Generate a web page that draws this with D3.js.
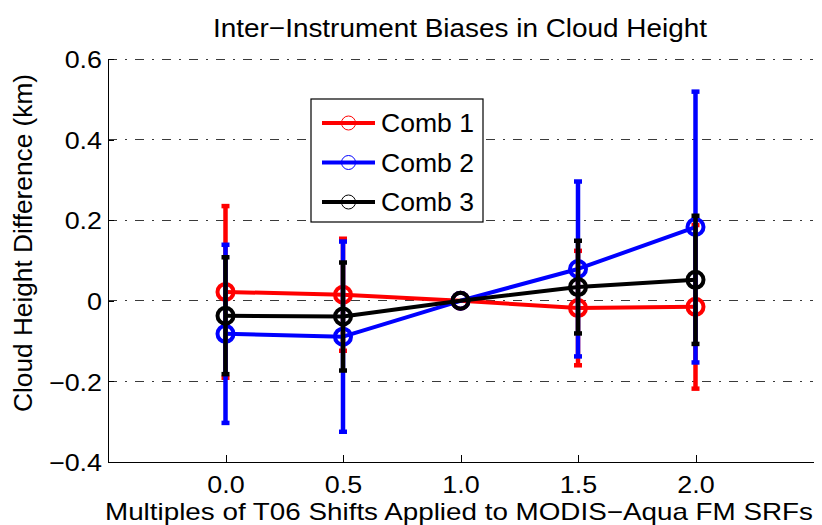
<!DOCTYPE html>
<html>
<head>
<meta charset="utf-8">
<script src="https://cdn.jsdelivr.net/npm/d3@7"></script>
<style>
  html, body { margin: 0; padding: 0; background: #fff; }
  svg { display: block; font-family: "Liberation Sans", Arial, Helvetica, sans-serif; }
</style>
</head>
<body>
<svg id="chart" width="822" height="525"></svg>
<script>
// Shift multiples (x positions)
const shifts = [0.0, 0.5, 1.0, 1.5, 2.0];

// Mean cloud height differences (km) for each combination
const comb1Mean = [0.022, 0.015, 0.0, -0.018, -0.015];
const comb2Mean = [-0.082, -0.089, 0.0, 0.079, 0.183];
const comb3Mean = [-0.037, -0.039, 0.0, 0.034, 0.052];

// Error bar half-widths (km)
const comb1Err = [0.213, 0.139, 0.0, 0.142, 0.203];
const comb2Err = [0.221, 0.236, 0.0, 0.217, 0.336];
const comb3Err = [0.145, 0.134, 0.0, 0.115, 0.159];

const seriesNames = ["Comb 1", "Comb 2", "Comb 3"];
const seriesColors = ["#ff0000", "#0000ff", "#000000"];

const yTicks = [-0.4, -0.2, 0, 0.2, 0.4, 0.6];
const xTicks = [0.0, 0.5, 1.0, 1.5, 2.0];

const titleText = "Inter\u2212Instrument Biases in Cloud Height";
const xLabel = "Multiples of T06 Shifts Applied to MODIS\u2212Aqua FM SRFs";
const yLabel = "Cloud Height Difference (km)";

const series = [
  { name: seriesNames[0], color: seriesColors[0], mean: comb1Mean, err: comb1Err },
  { name: seriesNames[1], color: seriesColors[1], mean: comb2Mean, err: comb2Err },
  { name: seriesNames[2], color: seriesColors[2], mean: comb3Mean, err: comb3Err }
];

const svg = d3.select("#chart");
const plot = { left: 108, right: 813, top: 59, bottom: 462 };

const x = d3.scaleLinear().domain([-0.5, 2.5]).range([plot.left, plot.right]);
const y = d3.scaleLinear().domain([-0.4, 0.6]).range([plot.bottom, plot.top]);

const fmtY = d => d === 0 ? "0" : d3.format(".1f")(d);
const fmtX = d3.format(".1f");

// Slightly wide lettering
const wide = 1.12;

// Dash-dot horizontal grid lines
svg.append("g")
  .selectAll("line")
  .data(yTicks.filter(t => t > -0.4))
  .join("line")
  .attr("x1", plot.left).attr("x2", plot.right)
  .attr("y1", d => y(d)).attr("y2", d => y(d))
  .attr("stroke", "#3a3a3a")
  .attr("stroke-width", 1)
  .attr("stroke-dasharray", "9,8,2,8")
  .attr("shape-rendering", "crispEdges");

// Left axis
const yAxis = d3.axisLeft(y).tickValues(yTicks).tickFormat(fmtY).tickSizeInner(-6).tickSizeOuter(0).tickPadding(6);
const gy = svg.append("g").attr("transform", `translate(${plot.left},0)`).call(yAxis);
gy.select(".domain").attr("stroke", "#000").attr("shape-rendering", "crispEdges");
gy.selectAll(".tick line").attr("stroke", "#000").attr("shape-rendering", "crispEdges");
gy.selectAll(".tick text").attr("font-size", 24).attr("fill", "#000")
  .attr("font-family", "Liberation Sans, Arial, sans-serif").attr("dy", "0.36em")
  .attr("x", -6 / wide)
  .attr("transform", `scale(${wide},1)`);

// Bottom axis
const xAxis = d3.axisBottom(x).tickValues(xTicks).tickFormat(fmtX).tickSizeInner(-7).tickSizeOuter(0).tickPadding(14);
const gx = svg.append("g").attr("transform", `translate(0,${plot.bottom})`).call(xAxis);
gx.select(".domain").attr("stroke", "#000").attr("shape-rendering", "crispEdges");
gx.selectAll(".tick line").attr("stroke", "#000").attr("shape-rendering", "crispEdges");
gx.selectAll(".tick text").attr("font-size", 24).attr("fill", "#000")
  .attr("font-family", "Liberation Sans, Arial, sans-serif")
  .attr("transform", `scale(${wide},1)`);

// Series: error bars, connecting line, circle markers
const capHalf = 4;
series.forEach(s => {
  const g = svg.append("g");
  const pts = shifts.map((xv, i) => ({ x: xv, m: s.mean[i], e: s.err[i] }));

  const bars = g.append("g").selectAll("g").data(pts.filter(p => p.e > 0)).join("g");
  bars.append("line")
    .attr("x1", p => x(p.x)).attr("x2", p => x(p.x))
    .attr("y1", p => y(p.m + p.e)).attr("y2", p => y(p.m - p.e))
    .attr("stroke", s.color).attr("stroke-width", 4.5);
  [1, -1].forEach(sign => {
    bars.append("line")
      .attr("x1", p => x(p.x) - capHalf).attr("x2", p => x(p.x) + capHalf)
      .attr("y1", p => y(p.m + sign * p.e)).attr("y2", p => y(p.m + sign * p.e))
      .attr("stroke", s.color).attr("stroke-width", 4.5);
  });

  const line = d3.line().x(p => x(p.x)).y(p => y(p.m));
  g.append("path").datum(pts).attr("d", line)
    .attr("fill", "none").attr("stroke", s.color).attr("stroke-width", 4)
    .attr("stroke-linejoin", "round");

  g.append("g").selectAll("circle").data(pts).join("circle")
    .attr("cx", p => x(p.x)).attr("cy", p => y(p.m)).attr("r", 8)
    .attr("fill", "none").attr("stroke", s.color).attr("stroke-width", 4);
});

// Legend
const legend = svg.append("g");
legend.append("rect")
  .attr("x", 311).attr("y", 99).attr("width", 172).attr("height", 123)
  .attr("fill", "#fff").attr("stroke", "#000").attr("stroke-width", 1.2);
series.forEach((s, i) => {
  const ly = 123 + i * 39.5;
  legend.append("line").attr("x1", 322).attr("x2", 375).attr("y1", ly).attr("y2", ly)
    .attr("stroke", s.color).attr("stroke-width", 4);
  legend.append("circle").attr("cx", 348.5).attr("cy", ly).attr("r", 7)
    .attr("fill", "none").attr("stroke", s.color).attr("stroke-width", 1);
  legend.append("text").attr("x", 381).attr("y", ly).attr("dy", "0.36em")
    .attr("font-size", 25).attr("fill", "#000")
    .attr("textLength", 93).attr("lengthAdjust", "spacingAndGlyphs")
    .text(s.name);
});

// Title and axis labels
svg.append("text").attr("x", 460).attr("y", 37)
  .attr("text-anchor", "middle").attr("font-size", 26).attr("fill", "#000")
  .attr("textLength", 494).attr("lengthAdjust", "spacingAndGlyphs")
  .text(titleText);
svg.append("text").attr("x", 459).attr("y", 520)
  .attr("text-anchor", "middle").attr("font-size", 24).attr("fill", "#000")
  .attr("textLength", 708).attr("lengthAdjust", "spacingAndGlyphs")
  .text(xLabel);
svg.append("text")
  .attr("transform", "translate(32,243) rotate(-90)")
  .attr("text-anchor", "middle").attr("font-size", 25).attr("fill", "#000")
  .attr("textLength", 338).attr("lengthAdjust", "spacingAndGlyphs")
  .text(yLabel);
</script>
</body>
</html>
